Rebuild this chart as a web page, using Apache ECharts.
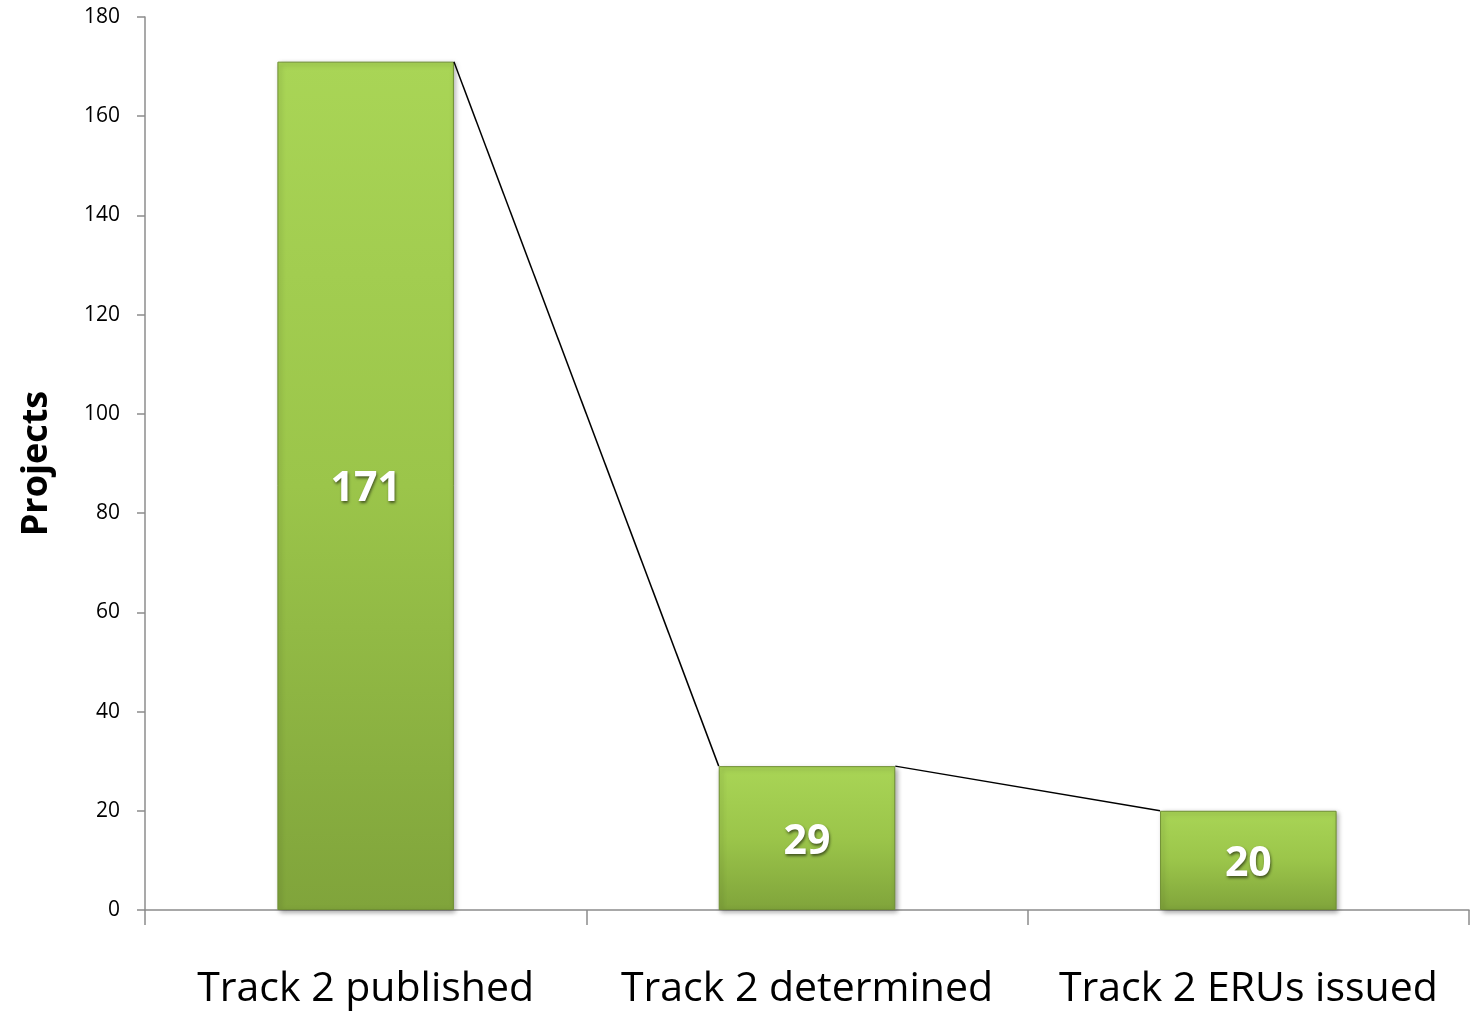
<!DOCTYPE html>
<html>
<head>
<meta charset="utf-8">
<script src="https://cdn.jsdelivr.net/npm/echarts@6/dist/echarts.min.js"></script>
<style>html,body{margin:0;padding:0;background:#fff}#c{width:1472px;height:1011px}</style>
</head>
<body>
<div id="c"></div>
<script>
var categories = ['Track 2 published', 'Track 2 determined', 'Track 2 ERUs issued'];
var projects = [171, 29, 20];
var yTicks = {min: 0, max: 180, interval: 20};
var axisName = 'Projects';

var BAR_FRACTION = 0.4;
var chart = echarts.init(document.getElementById('c'));
var fontFam = '"Open Sans", "Noto Sans", "Liberation Sans", sans-serif';

chart.setOption({
  animation: false,
  grid: {left: 145, right: 3, top: 17, bottom: 101},
  xAxis: {
    type: 'category',
    data: categories,
    axisLine: {lineStyle: {color: '#8c8c8c', width: 1.5}},
    axisTick: {show: true, interval: 0, length: 15, lineStyle: {color: '#8c8c8c', width: 1.5}},
    axisLabel: {color: '#000', fontSize: 41, interval: 0, margin: 59, fontFamily: fontFam},
    splitLine: {show: false}
  },
  yAxis: {
    type: 'value',
    min: yTicks.min, max: yTicks.max, interval: yTicks.interval,
    name: axisName,
    nameLocation: 'middle',
    nameGap: 90,
    nameRotate: 90,
    nameTextStyle: {fontSize: 36, fontWeight: 'bold', color: '#000', fontFamily: fontFam},
    axisLine: {show: true, lineStyle: {color: '#8c8c8c', width: 1.5}},
    axisTick: {show: true, length: 8, inside: false, lineStyle: {color: '#8c8c8c', width: 1.5}},
    axisLabel: {color: '#000', fontSize: 21, margin: 25, fontFamily: fontFam},
    splitLine: {show: false}
  },
  series: [
    {
      type: 'bar',
      data: projects,
      barWidth: (BAR_FRACTION * 100) + '%',
      itemStyle: {
        color: new echarts.graphic.LinearGradient(0, 0, 0, 1, [
          {offset: 0, color: '#a9d556'},
          {offset: 0.5, color: '#9bc54a'},
          {offset: 1, color: '#80a43b'}
        ]),
        borderColor: '#6f8f33',
        borderWidth: 1,
        shadowColor: 'rgba(0,0,0,0.35)',
        shadowBlur: 5,
        shadowOffsetX: 2,
        shadowOffsetY: 2
      },
      label: {
        show: true,
        position: 'inside',
        offset: [0, 4],
        color: '#fff',
        fontSize: 41,
        fontWeight: 'bold',
        fontFamily: fontFam,
        textShadowColor: 'rgba(0,0,0,0.55)',
        textShadowBlur: 3,
        textShadowOffsetX: 1,
        textShadowOffsetY: 2
      },
      z: 2
    },
    {
      type: 'custom',
      data: projects.slice(0, projects.length - 1).map(function (v, i) { return [i, v, projects[i + 1]]; }),
      renderItem: function (params, api) {
        var i = api.value(0);
        var p1 = api.coord([i, api.value(1)]);
        var p2 = api.coord([i + 1, api.value(2)]);
        var half = api.size([1, 0])[0] * BAR_FRACTION / 2;
        return {
          type: 'line',
          shape: {x1: p1[0] + half, y1: p1[1], x2: p2[0] - half, y2: p2[1]},
          style: {stroke: '#000', lineWidth: 1.5}
        };
      },
      z: 3,
      silent: true
    }
  ]
});
</script>
</body>
</html>
